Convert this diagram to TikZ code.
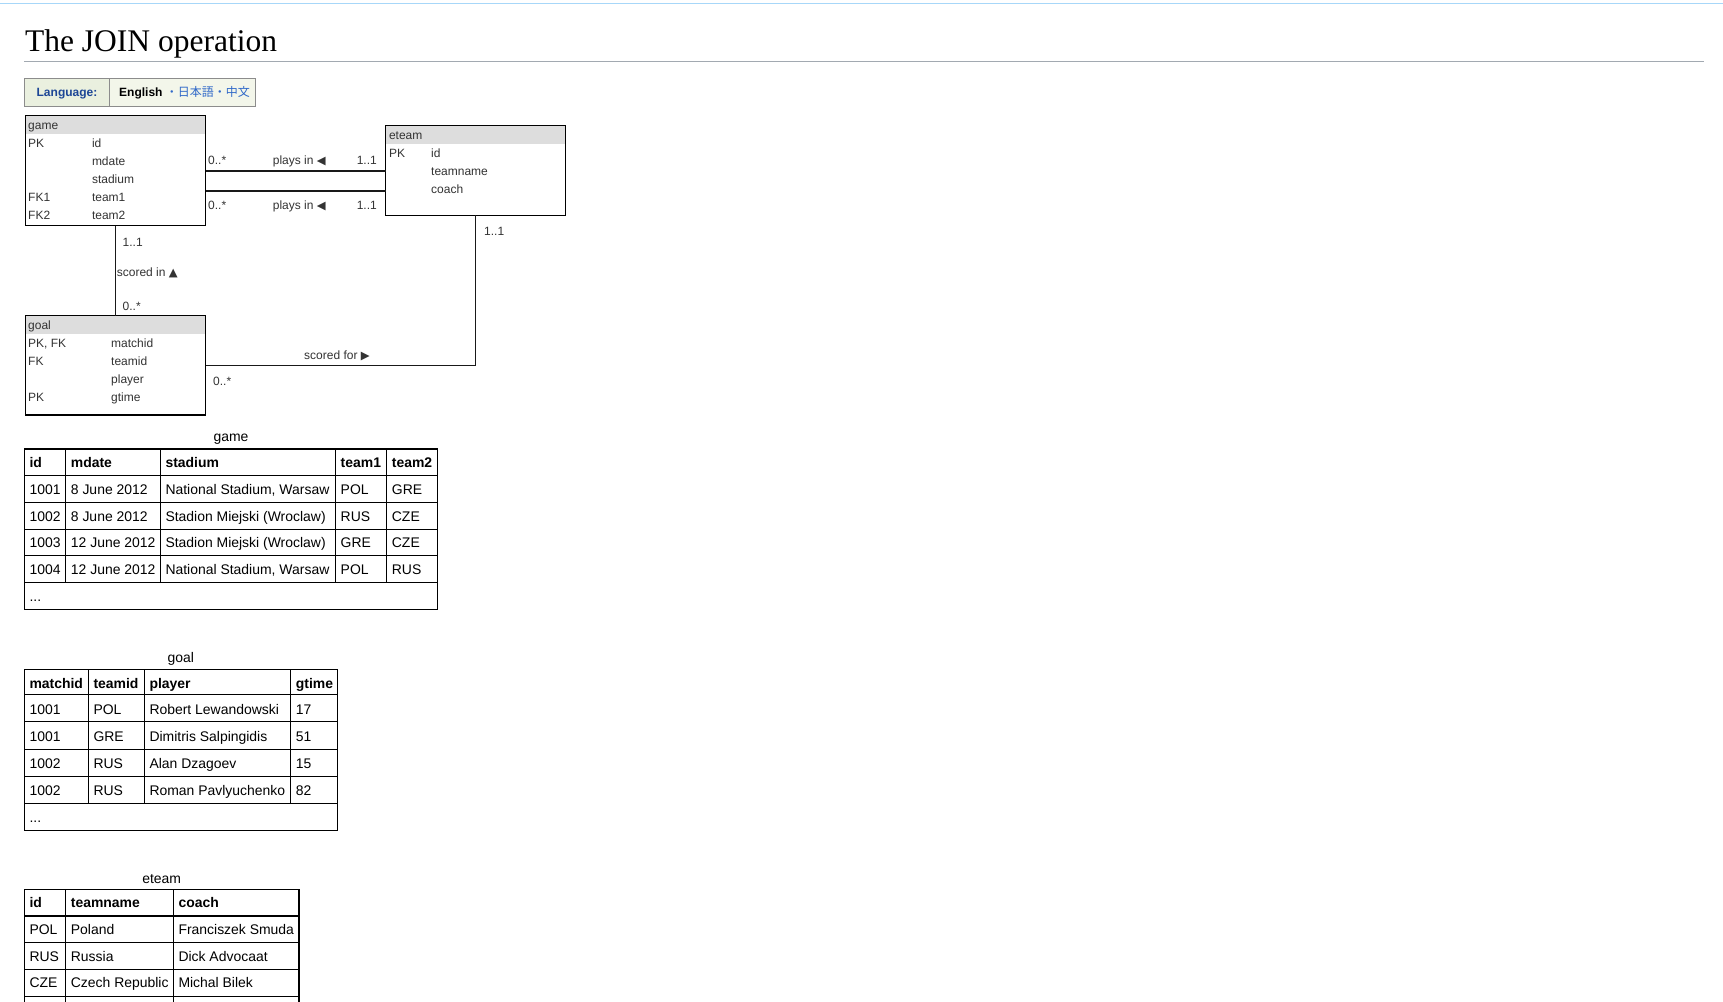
\documentclass[tikz,border=0pt]{standalone}
\usepackage{fontspec}
\setmainfont{Liberation Sans}
\newfontfamily\titlefont{Liberation Serif}
\newfontfamily\cjkfont{Noto Sans CJK JP}
\newfontfamily\trisymfont{DejaVu Sans}
\definecolor{topblue}{HTML}{A7D7F9}
\definecolor{rulegray}{HTML}{A2A9B1}
\definecolor{langleft}{HTML}{EAF0DF}
\definecolor{langright}{HTML}{F3F6EA}
\definecolor{langborder}{HTML}{8C8C8C}
\definecolor{langblue}{HTML}{1D4696}
\definecolor{linkblue}{HTML}{2F68C8}
\definecolor{hdrfill}{HTML}{DDDDDD}
\definecolor{etxt}{HTML}{333333}
\newcommand\triL{{\trisymfont\fontsize{11.5}{12}\selectfont ◀}}
\newcommand\triU{{\trisymfont\fontsize{11.5}{12}\selectfont ▲}}
\newcommand\triR{{\trisymfont\fontsize{11.5}{12}\selectfont ▶}}
\newcommand\tabrow[4]{\foreach \xx/\txt [count=\cc] in {#4} {\node[#1] (#2c\cc) at (\xx+5,#3) {\txt};}}
\tikzset{
  entbox/.style={inner sep=0pt, outer sep=0pt, anchor=north west},
  etext/.style={anchor=base west, inner sep=0pt, font=\fontsize{12}{14}\selectfont, text=etxt},
  etextr/.style={anchor=base east, inner sep=0pt, font=\fontsize{12}{14}\selectfont, text=etxt},
  cell/.style={anchor=base west, inner sep=0pt, font=\fontsize{13.95}{16}\selectfont},
  hcell/.style={anchor=base west, inner sep=0pt, font=\fontsize{13.95}{16}\selectfont\bfseries},
  tcaption/.style={anchor=base, inner sep=0pt, font=\fontsize{13.95}{16}\selectfont},
  tline/.style={line width=1.2pt, draw=black},
  bline/.style={line width=1.2pt, draw=black},
  conn/.style={line width=1.2pt, draw=black!90},
}
\begin{document}
\begin{tikzpicture}[x=1pt,y=-1pt]
\useasboundingbox (0,0) rectangle (1723,1001);
\fill[white] (0,0) rectangle (1723,1001);
% page header
\draw[topblue, line width=1.5pt] (0,3.3) -- (1723,3.3);
\node[anchor=base west, inner sep=0pt, font=\titlefont\fontsize{31.5}{36}\selectfont] (title) at (24.9,51.7) {The JOIN operation};
\draw[rulegray, line width=1.2pt] (24,61.5) -- (1704,61.5);
% language box
\node[entbox, draw=langborder, line width=1.2pt, fill=langleft, minimum width=84.9pt, minimum height=28.4pt] (langL) at (24.5,78.3) {};
\node[entbox, draw=langborder, line width=1.2pt, fill=langright, minimum width=146.2pt, minimum height=28.4pt] (langR) at (109.4,78.3) {};
\node[anchor=base, inner sep=0pt, font=\fontsize{12}{14}\selectfont\bfseries, text=langblue] (langlabel) at (67,96) {Language:};
\node[anchor=base west, inner sep=0pt, font=\fontsize{12}{14}\selectfont] (langlist) at (119,96) {\textbf{English}\hspace{3.3pt}{\cjkfont\color{linkblue}・日本語・中文}};
% ---- entity game
\node[entbox, minimum width=180.2pt, minimum height=110.4pt] (game) at (25.3,115.3) {};
\fill[hdrfill] (game.north west) rectangle (game.east |- 0,134);
\draw[bline] (game.north west) rectangle (game.south east);
\node[etext] (gameh) at (28,129.5) {game};
\node[etext] (gk1) at (28,147) {PK};
\node[etext] (ga1) at (91.8,147) {id};
\node[etext] (ga2) at (91.8,165) {mdate};
\node[etext] (ga3) at (91.8,183) {stadium};
\node[etext] (gk4) at (28,201) {FK1};
\node[etext] (ga4) at (91.8,201) {team1};
\node[etext] (gk5) at (28,219) {FK2};
\node[etext] (ga5) at (91.8,219) {team2};
% ---- entity eteam
\node[entbox, minimum width=180.1pt, minimum height=90pt] (eteam) at (385.5,125.3) {};
\fill[hdrfill] (eteam.north west) rectangle (eteam.east |- 0,144);
\draw[bline] (eteam.north west) rectangle (eteam.south east);
\node[etext] (eteamh) at (388.8,139.3) {eteam};
\node[etext] (ek1) at (388.8,157) {PK};
\node[etext] (ea1) at (431,157) {id};
\node[etext] (ea2) at (431,175) {teamname};
\node[etext] (ea3) at (431,193) {coach};
% ---- entity goal
\node[entbox, minimum width=180.2pt, minimum height=99.3pt] (goal) at (25.3,315.7) {};
\fill[hdrfill] (goal.north west) rectangle (goal.east |- 0,333.7);
\draw[bline] (goal.north west) rectangle (goal.south east);
\node[etext] (goalh) at (28,329.5) {goal};
\node[etext] (ok1) at (28,347) {PK, FK};
\node[etext] (oa1) at (111,347) {matchid};
\node[etext] (ok2) at (28,365) {FK};
\node[etext] (oa2) at (111,365) {teamid};
\node[etext] (oa3) at (111,383) {player};
\node[etext] (ok4) at (28,401) {PK};
\node[etext] (oa4) at (111,401) {gtime};
% ---- connectors
\draw[conn] (game.east |- 0,171) -- (eteam.west |- 0,171);
\draw[conn] (game.east |- 0,191) -- (eteam.west |- 0,191);
\draw[conn] (game.south -| 115.6,0) -- (goal.north -| 115.6,0);
\draw[conn] (goal.east |- 0,365.3) -| (eteam.south -| 475.7,0);
% connector labels
\node[etext] (p1m) at (208,164.5) {0..*};
\node[etext] (p1l) at (272.7,164) {plays in \triL};
\node[etextr] (p1n) at (377,164) {1..1};
\node[etext] (p2m) at (208,209.5) {0..*};
\node[etext] (p2l) at (272.7,209.5) {plays in \triL};
\node[etextr] (p2n) at (377,209.5) {1..1};
\node[etext] (s1n) at (122.5,246) {1..1};
\node[etext] (s1l) at (116.7,276.7) {scored in \triU};
\node[etext] (s1m) at (122.5,310) {0..*};
\node[etext] (s2l) at (304,359.3) {scored for \triR};
\node[etext] (s2m) at (213,385.7) {0..*};
\node[etext] (s2n) at (484,235) {1..1};
% ---- table game
\node[tcaption] (gcap) at (231,441.5) {game};
\draw[tline] (24.3,449) rectangle (437.7,609.2);
\foreach \yy in {475.7,502.4,529.1,555.8,582.5} {\draw[tline] (24.3,\yy) -- (437.7,\yy);}
\foreach \xx in {65.7,160.3,335.5,386.7} {\draw[tline] (\xx,449) -- (\xx,582.5);}
\tabrow{hcell}{gth}{467.8}{24.3/id,65.7/mdate,160.3/stadium,335.5/team1,386.7/team2}
\tabrow{cell}{gtr1}{494.5}{24.3/1001,65.7/8 June 2012,160.3/{National Stadium, Warsaw},335.5/POL,386.7/GRE}
\tabrow{cell}{gtr2}{521.2}{24.3/1002,65.7/8 June 2012,160.3/Stadion Miejski (Wroclaw),335.5/RUS,386.7/CZE}
\tabrow{cell}{gtr3}{547.9}{24.3/1003,65.7/12 June 2012,160.3/Stadion Miejski (Wroclaw),335.5/GRE,386.7/CZE}
\tabrow{cell}{gtr4}{574.6}{24.3/1004,65.7/12 June 2012,160.3/{National Stadium, Warsaw},335.5/POL,386.7/RUS}
\node[cell] (gtdots) at (29.3,601.3) {...};
% ---- table goal
\node[tcaption] (ocap) at (180.9,662.5) {goal};
\draw[tline] (24.3,669.3) rectangle (337.5,830.2);
\foreach \yy in {694.8,721.7,749.3,776.7,803.3} {\draw[tline] (24.3,\yy) -- (337.5,\yy);}
\foreach \xx in {88.3,144.3,290.7} {\draw[tline] (\xx,669.3) -- (\xx,803.3);}
\tabrow{hcell}{oth}{688.3}{24.3/matchid,88.3/teamid,144.3/player,290.7/gtime}
\tabrow{cell}{otr1}{714.3}{24.3/1001,88.3/POL,144.3/Robert Lewandowski,290.7/17}
\tabrow{cell}{otr2}{741.4}{24.3/1001,88.3/GRE,144.3/Dimitris Salpingidis,290.7/51}
\tabrow{cell}{otr3}{768.8}{24.3/1002,88.3/RUS,144.3/Alan Dzagoev,290.7/15}
\tabrow{cell}{otr4}{795.9}{24.3/1002,88.3/RUS,144.3/Roman Pavlyuchenko,290.7/82}
\node[cell] (otdots) at (29.3,822.8) {...};
% ---- table eteam
\node[tcaption] (ecap) at (161.7,883.5) {eteam};
\draw[tline] (24.3,1010) -- (24.3,889.3) -- (299,889.3) -- (299,1010);
\foreach \yy in {916.0,942.7,969.4,996.1} {\draw[tline] (24.3,\yy) -- (299,\yy);}
\foreach \xx in {65.7,173.3} {\draw[tline] (\xx,889.3) -- (\xx,1010);}
\tabrow{hcell}{eth}{907.6}{24.3/id,65.7/teamname,173.3/coach}
\tabrow{cell}{etr1}{934.3}{24.3/POL,65.7/Poland,173.3/Franciszek Smuda}
\tabrow{cell}{etr2}{961.0}{24.3/RUS,65.7/Russia,173.3/Dick Advocaat}
\tabrow{cell}{etr3}{987.7}{24.3/CZE,65.7/Czech Republic,173.3/Michal Bilek}
\end{tikzpicture}
\end{document}
